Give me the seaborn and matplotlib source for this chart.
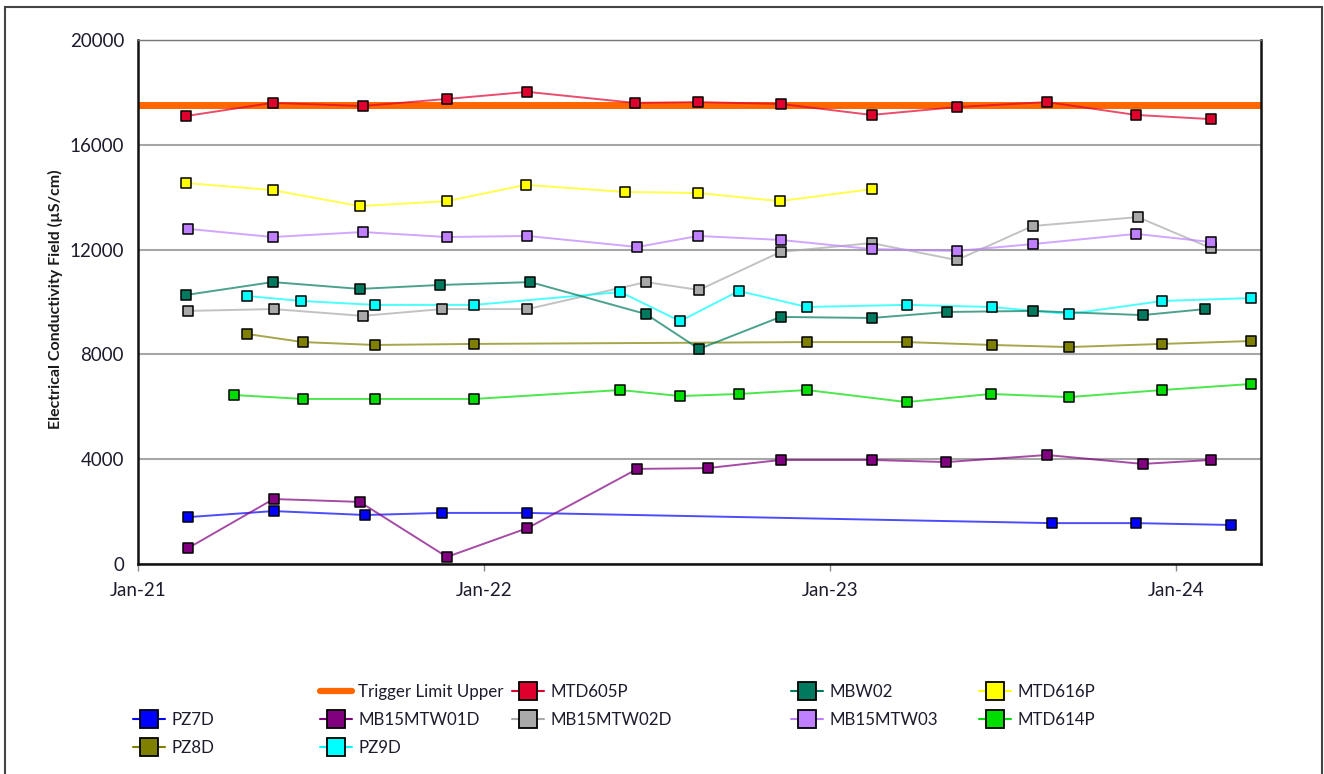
import matplotlib
matplotlib.use('Agg')
import matplotlib.pyplot as plt
import matplotlib.dates as mdates
from matplotlib.lines import Line2D
from matplotlib.patches import Rectangle
import seaborn as sns
import pandas as pd

# ---------------- data ----------------
pz7d_dates = ['2021-02-23', '2021-05-24', '2021-08-29', '2021-11-18', '2022-02-16',
              '2023-08-23', '2023-11-20', '2024-02-28']
pz7d_vals = [1790, 2020, 1870, 1950, 1950, 1560, 1560, 1490]

mb01d_dates = ['2021-02-23', '2021-05-24', '2021-08-23', '2021-11-23', '2022-02-16',
               '2022-06-12', '2022-08-25', '2022-11-10', '2023-02-15', '2023-05-04',
               '2023-08-18', '2023-11-27', '2024-02-07']
mb01d_vals = [610, 2480, 2370, 270, 1370, 3630, 3660, 3970, 3970, 3890, 4160, 3820, 3970]

mb02d_dates = ['2021-02-23', '2021-05-24', '2021-08-26', '2021-11-18', '2022-02-16',
               '2022-06-21', '2022-08-16', '2022-11-10', '2023-02-14', '2023-05-15',
               '2023-08-03', '2023-11-22', '2024-02-07']
mb02d_vals = [9660, 9730, 9470, 9730, 9730, 10760, 10460, 11910, 12250, 11600, 12900, 13240, 12060]

mb03_dates = ['2021-02-23', '2021-05-23', '2021-08-26', '2021-11-23', '2022-02-16',
              '2022-06-12', '2022-08-15', '2022-11-10', '2023-02-14', '2023-05-15',
              '2023-08-03', '2023-11-20', '2024-02-07']
mb03_vals = [12790, 12480, 12670, 12480, 12520, 12100, 12520, 12370, 12020, 11950, 12210, 12600, 12290]

mtd614_dates = ['2021-04-12', '2021-06-24', '2021-09-08', '2021-12-22', '2022-05-25',
                '2022-07-27', '2022-09-27', '2022-12-08', '2023-03-23', '2023-06-20',
                '2023-09-10', '2023-12-18', '2024-03-20']
mtd614_vals = [6450, 6300, 6300, 6300, 6640, 6410, 6490, 6640, 6180, 6490, 6370, 6640, 6870]

pz8d_dates = ['2021-04-26', '2021-06-24', '2021-09-08', '2021-12-22', '2022-12-08',
              '2023-03-23', '2023-06-21', '2023-09-10', '2023-12-18', '2024-03-20']
pz8d_vals = [8780, 8470, 8360, 8400, 8470, 8470, 8360, 8280, 8400, 8510]

pz9d_dates = ['2021-04-26', '2021-06-22', '2021-09-08', '2021-12-22', '2022-05-25',
              '2022-07-27', '2022-09-27', '2022-12-08', '2023-03-23', '2023-06-21',
              '2023-09-10', '2023-12-18', '2024-03-20']
pz9d_vals = [10230, 10040, 9890, 9890, 10380, 9270, 10420, 9810, 9890, 9810, 9540, 10040, 10150]

mtd605_dates = ['2021-02-21', '2021-05-23', '2021-08-26', '2021-11-23', '2022-02-16',
                '2022-06-09', '2022-08-15', '2022-11-10', '2023-02-14', '2023-05-15',
                '2023-08-18', '2023-11-20', '2024-02-07']
mtd605_vals = [17100, 17600, 17480, 17750, 18020, 17600, 17630, 17560, 17140, 17440, 17630, 17140, 16980]

mbw02_dates = ['2021-02-21', '2021-05-23', '2021-08-23', '2021-11-16', '2022-02-19',
               '2022-06-21', '2022-08-16', '2022-11-10', '2023-02-14', '2023-05-05',
               '2023-08-03', '2023-11-27', '2024-02-01']
mbw02_vals = [10270, 10760, 10500, 10650, 10760, 9540, 8210, 9430, 9390, 9620, 9660, 9500, 9730]

mtd616_dates = ['2021-02-21', '2021-05-23', '2021-08-23', '2021-11-23', '2022-02-14',
                '2022-05-30', '2022-08-15', '2022-11-09', '2023-02-15']
mtd616_vals = [14540, 14270, 13660, 13850, 14470, 14200, 14160, 13850, 14310]

trigger_dates = ['2021-01-01', '2024-03-31']
trigger_vals = [17500, 17500]

y_ticks = [0, 4000, 8000, 12000, 16000, 20000]
x_start, x_end = '2021-01-01', '2024-03-31'

series = [
    ('PZ7D', pz7d_dates, pz7d_vals, '#0000FF'),
    ('MB15MTW01D', mb01d_dates, mb01d_vals, '#800080'),
    ('MB15MTW02D', mb02d_dates, mb02d_vals, '#A9A9A9'),
    ('MB15MTW03', mb03_dates, mb03_vals, '#BF80FF'),
    ('MTD614P', mtd614_dates, mtd614_vals, '#00DD00'),
    ('PZ8D', pz8d_dates, pz8d_vals, '#808000'),
    ('PZ9D', pz9d_dates, pz9d_vals, '#00FFFF'),
    ('MTD605P', mtd605_dates, mtd605_vals, '#E0002E'),
    ('MBW02', mbw02_dates, mbw02_vals, '#007A5E'),
    ('MTD616P', mtd616_dates, mtd616_vals, '#FFFF00'),
]
trigger_color = '#FF6600'
colors = {s[0]: s[3] for s in series}

# ---------------- figure ----------------
sns.set_theme(style='white')
plt.rcParams['font.family'] = ['Lato', 'DejaVu Sans']
W, H = 1324, 774
fig = plt.figure(figsize=(W / 100, H / 100), dpi=100)
ax = fig.add_axes([138 / W, 1 - 564 / H, (1261 - 138) / W, (564 - 40) / H])

# trigger limit
tdf = pd.DataFrame({'date': pd.to_datetime(trigger_dates), 'value': trigger_vals})
sns.lineplot(data=tdf, x='date', y='value', ax=ax, color=trigger_color, lw=5,
             estimator=None, zorder=2)

for i, (name, d, v, c) in enumerate(series):
    df = pd.DataFrame({'date': pd.to_datetime(d), 'value': v})
    sns.lineplot(data=df, x='date', y='value', ax=ax, color=c, lw=1.4, alpha=0.7,
                 estimator=None, sort=False, zorder=3)
    sns.scatterplot(data=df, x='date', y='value', ax=ax, marker='s', s=52, color=c,
                    edgecolor='black', linewidth=1.1, zorder=4)

ax.set_xlim(pd.Timestamp(x_start), pd.Timestamp(x_end))
ax.set_ylim(y_ticks[0], y_ticks[-1])
ax.set_yticks(y_ticks)
ax.set_yticklabels([str(t) for t in y_ticks])
ax.xaxis.set_major_locator(mdates.YearLocator())
ax.xaxis.set_major_formatter(mdates.DateFormatter('%b-%y'))

ax.grid(axis='y', color='#A6A6A6', lw=1.5)
ax.set_axisbelow(True)
ax.set_xlabel('')
ax.set_ylabel('Electrical Conductivity Field (µS/cm)', fontsize=11.5, fontweight='bold',
              color='#1a1a1a')
ax.yaxis.set_label_coords(-0.067, 0.505)

ax.tick_params(axis='y', length=0, pad=10, labelsize=13.5, labelcolor='#1c1c2c')
ax.tick_params(axis='x', length=5, width=1, color='#888888', pad=8, labelsize=13.5,
               labelcolor='#1c1c2c', direction='out', bottom=True)

for side in ['left', 'bottom', 'right']:
    ax.spines[side].set_color('#111111')
    ax.spines[side].set_linewidth(1.8)
ax.spines['top'].set_color('#777777')
ax.spines['top'].set_linewidth(1.0)

# outer frame
fig.patches.append(Rectangle((5 / W, -0.1), (1322 - 5) / W, 0.1 + 1 - 7 / H,
                             transform=fig.transFigure, fill=False,
                             edgecolor='#444444', lw=1.5))

# ---------------- legend ----------------
def h(name):
    c = colors[name]
    return Line2D([], [], color=c, lw=1.5, marker='s', markersize=13.5,
                  markerfacecolor=c, markeredgecolor='black', markeredgewidth=1.3)

blank = Line2D([], [], alpha=0)
trig = Line2D([], [], color=trigger_color, lw=4.5)

columns = [
    (133, [blank, h('PZ7D'), h('PZ8D')], ['', 'PZ7D', 'PZ8D']),
    (320, [trig, h('MB15MTW01D'), h('PZ9D')], ['Trigger Limit Upper', 'MB15MTW01D', 'PZ9D']),
    (512, [h('MTD605P'), h('MB15MTW02D')], ['MTD605P', 'MB15MTW02D']),
    (791, [h('MBW02'), h('MB15MTW03')], ['MBW02', 'MB15MTW03']),
    (979, [h('MTD616P'), h('MTD614P')], ['MTD616P', 'MTD614P']),
]
for x, hs, ls in columns:
    leg = fig.legend(hs, ls, loc='upper left', bbox_to_anchor=(x / W, 1 - 684 / H),
                     bbox_transform=fig.transFigure, frameon=False, fontsize=12.2,
                     handlelength=1.9, handletextpad=0.35, borderpad=0,
                     borderaxespad=0, labelspacing=0.7)
    for t in leg.get_texts():
        t.set_color('#1c1c2c')

fig.savefig('out.png', dpi=100)
